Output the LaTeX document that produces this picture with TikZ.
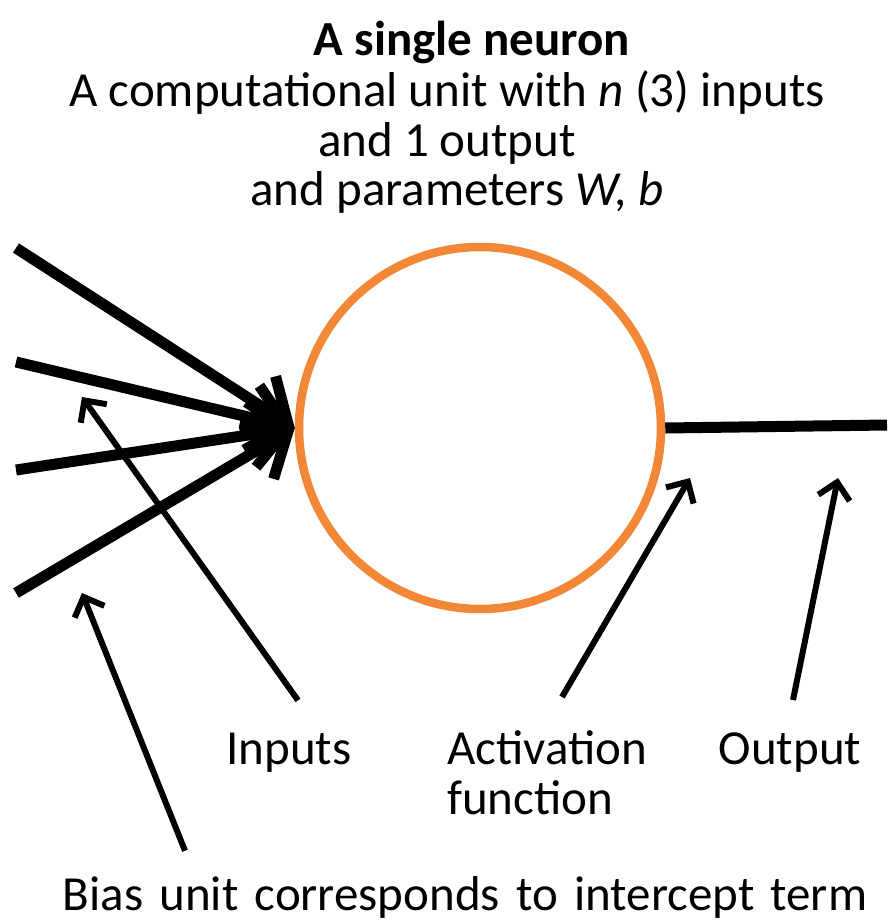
\documentclass[tikz,border=0pt]{standalone}
\usepackage{fontspec}
\setmainfont{Carlito}
\usetikzlibrary{arrows.meta}
\definecolor{neuronorange}{RGB}{242,135,55}
\begin{document}
\begin{tikzpicture}[x=1pt,y=-1pt,
        lbl/.style={font=\fontsize{49}{50}\selectfont,inner sep=0pt},
        wire/.style={line width=11pt},
        pointer/.style={line width=6pt,-{Straight Barb[length=16pt,width=32pt]}}]
            \useasboundingbox (0,0) rectangle (887,923);
            % heading
            \node[lbl,anchor=base] at (472,56)(head){\textbf{A single neuron}};
            \node[lbl,anchor=base] at (447,107)(line1){A computational unit with \textit{n} (3) inputs};
            \node[lbl,anchor=base] at (447,156)(line2){and 1 output};
            \node[lbl,anchor=base] at (457,205)(line3){and parameters \textit{W, b}};
            % the unit
            \node[draw=neuronorange,line width=8.5pt,circle,minimum size=362pt] at (480,428)(neuron){};
            \foreach \y [count=\i] in {248,362,470,593}{
                \coordinate (in\i) at (16,\y);
                \path[draw,wire,-{Straight Barb[length=36pt,width=66pt]}] (in\i) -- (neuron.west);
            }
            \coordinate (out) at (887,425);
            \path[draw,wire] (neuron.east) -- (out);
            % labels
            \node[lbl,anchor=base] at (289,764)(inputs){Inputs};
            \node[lbl,anchor=north west,align=left] at (447,730)(act){Activation\\function};
            \node[lbl,anchor=base] at (790,764)(output){Output};
            \node[lbl,anchor=base] at (465,910)(bias){\spaceskip=0.33em\relax Bias unit corresponds to intercept term};
            \coordinate (tipin) at (82,397);
            \coordinate (tipbias) at (82,593);
            \coordinate (tipact) at (690,478);
            \coordinate (tipout) at (838,478);
            \path[draw,pointer] ([xshift=9pt,yshift=32pt]inputs.north) -- (tipin);
            \path[draw,pointer] ([xshift=-280pt,yshift=25pt]bias.north) -- (tipbias);
            \path[draw,pointer] ([xshift=115pt,yshift=33pt]act.north west) -- (tipact);
            \path[draw,pointer] ([xshift=3pt,yshift=32pt]output.north) -- (tipout);
        \end{tikzpicture}
\end{document}
